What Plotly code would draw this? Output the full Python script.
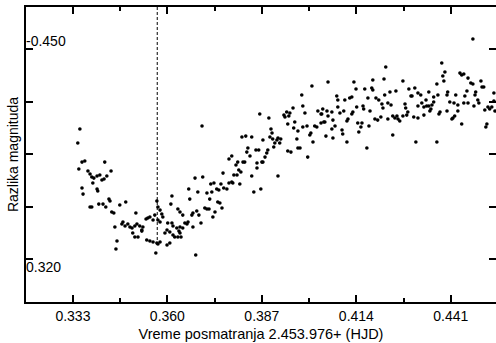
import plotly.graph_objects as go

time_hjd = [
    0.3350, 0.3344, 0.3356, 0.3364, 0.3421, 0.3347, 0.3439, 0.3373, 0.3379, 0.3384,
    0.3390, 0.3399, 0.3407, 0.3413, 0.3419, 0.3427, 0.3387, 0.3399, 0.3401, 0.3356,
    0.3359, 0.3661, 0.3379, 0.3384, 0.3404, 0.3416, 0.3424, 0.3433, 0.3436, 0.3441,
    0.3447, 0.3464, 0.3481, 0.3613, 0.3570, 0.3573, 0.3579, 0.3584, 0.3630, 0.3636,
    0.3450, 0.3470, 0.3473, 0.3479, 0.3487, 0.3493, 0.3499, 0.3510, 0.3507, 0.3513,
    0.3521, 0.3527, 0.3530, 0.3539, 0.3544, 0.3550, 0.3559, 0.3564, 0.3573, 0.3579,
    0.3587, 0.3613, 0.3616, 0.3627, 0.3636, 0.3644, 0.3650, 0.3656, 0.3659, 0.3501,
    0.3507, 0.3516, 0.3527, 0.3541, 0.3550, 0.3559, 0.3570, 0.3573, 0.3579, 0.3593,
    0.3599, 0.3607, 0.3616, 0.3621, 0.3630, 0.3636, 0.3599, 0.3607, 0.3456, 0.3453,
    0.3567, 0.3610, 0.3644, 0.3633, 0.3639, 0.3601,
    # 0.366 - 0.381
    0.3699, 0.3784, 0.3776, 0.3801, 0.3796, 0.3804, 0.3790, 0.3799, 0.3807, 0.3759,
    0.3679, 0.3701, 0.3724, 0.3733, 0.3753, 0.3741, 0.3747, 0.3761, 0.3770, 0.3776,
    0.3784, 0.3787, 0.3713, 0.3727, 0.3721, 0.3707, 0.3713, 0.3719, 0.3744, 0.3750,
    0.3756, 0.3730, 0.3736, 0.3664, 0.3670, 0.3673, 0.3684, 0.3690, 0.3696, 0.3673,
    0.3687, 0.3681,
    # 0.381 - 0.405
    0.4013, 0.3984, 0.3864, 0.3890, 0.3987, 0.3993, 0.3959, 0.3941, 0.3933, 0.3936,
    0.3947, 0.3950, 0.3964, 0.3944, 0.3961, 0.3973, 0.3987, 0.3999, 0.4007, 0.4010,
    0.4016, 0.4030, 0.4039, 0.4044, 0.4041, 0.4021, 0.4027, 0.4039, 0.4047, 0.3896,
    0.3899, 0.3893, 0.3901, 0.3913, 0.3907, 0.3916, 0.3924, 0.3904, 0.3921, 0.3970,
    0.3973, 0.3979, 0.3944, 0.3953, 0.4001, 0.3813, 0.3824, 0.3841, 0.3873, 0.3830,
    0.3827, 0.3853, 0.3861, 0.3836, 0.3887, 0.3884, 0.3879, 0.3873, 0.3856, 0.3856,
    0.3841, 0.3870, 0.3816, 0.3821, 0.3810, 0.3847, 0.3867, 0.3916,
    # 0.405 - 0.429
    0.4224, 0.4059, 0.4133, 0.4139, 0.4187, 0.4219, 0.4273, 0.4290, 0.4164, 0.4184,
    0.4187, 0.4236, 0.4253, 0.4084, 0.4087, 0.4107, 0.4121, 0.4127, 0.4173, 0.4196,
    0.4204, 0.4221, 0.4230, 0.4239, 0.4213, 0.4216, 0.4159, 0.4161, 0.4141, 0.4130,
    0.4127, 0.4104, 0.4093, 0.4087, 0.4179, 0.4279, 0.4281, 0.4056, 0.4070, 0.4059,
    0.4073, 0.4050, 0.4079, 0.4070, 0.4113, 0.4116, 0.4099, 0.4101, 0.4053, 0.4073,
    0.4113, 0.4144, 0.4156, 0.4153, 0.4176, 0.4147, 0.4193, 0.4201, 0.4210, 0.4230,
    0.4244, 0.4250, 0.4259, 0.4264, 0.4256, 0.4273, 0.4284, 0.4287, 0.4244, 0.4170,
    # 0.429 - 0.454
    0.4473, 0.4384, 0.4393, 0.4387, 0.4390, 0.4436, 0.4441, 0.4447, 0.4459, 0.4467,
    0.4473, 0.4496, 0.4499, 0.4504, 0.4307, 0.4316, 0.4324, 0.4296, 0.4299, 0.4347,
    0.4370, 0.4373, 0.4361, 0.4401, 0.4399, 0.4424, 0.4456, 0.4450, 0.4481, 0.4479,
    0.4533, 0.4316, 0.4327, 0.4339, 0.4333, 0.4341, 0.4347, 0.4356, 0.4353, 0.4361,
    0.4350, 0.4379, 0.4376, 0.4399, 0.4407, 0.4419, 0.4430, 0.4430, 0.4447, 0.4459,
    0.4476, 0.4487, 0.4490, 0.4507, 0.4516, 0.4521, 0.4527, 0.4533, 0.4536, 0.4421,
    0.4416, 0.4413, 0.4441, 0.4304, 0.4316, 0.4513, 0.4510, 0.4333, 0.4310, 0.4370,
]

mag_diff = [
    -0.4005, -0.3918, -0.3800, -0.3807, -0.3800, -0.3757, -0.3745, -0.3745, -0.3726, -0.3708,
    -0.3701, -0.3714, -0.3720, -0.3689, -0.3695, -0.3714, -0.3671, -0.3633, -0.3621, -0.3640,
    -0.3602, -0.3633, -0.3522, -0.3522, -0.3540, -0.3540, -0.3522, -0.3571, -0.3559, -0.3491,
    -0.3485, -0.3534, -0.3553, -0.3590, -0.3559, -0.3522, -0.3503, -0.3479, -0.3510, -0.3491,
    -0.3398, -0.3417, -0.3429, -0.3404, -0.3417, -0.3398, -0.3392, -0.3485, -0.3404, -0.3417,
    -0.3404, -0.3380, -0.3398, -0.3448, -0.3454, -0.3460, -0.3442, -0.3472, -0.3442, -0.3429,
    -0.3460, -0.3423, -0.3404, -0.3392, -0.3398, -0.3472, -0.3423, -0.3417, -0.3429, -0.3361,
    -0.3336, -0.3336, -0.3373, -0.3318, -0.3312, -0.3305, -0.3299, -0.3293, -0.3305, -0.3361,
    -0.3380, -0.3367, -0.3349, -0.3336, -0.3336, -0.3361, -0.3287, -0.3299, -0.3312, -0.3262,
    -0.3237, -0.3540, -0.3392, -0.3373, -0.3336, -0.3423,
    # 0.366 - 0.381
    -0.4023, -0.3838, -0.3819, -0.3800, -0.3782, -0.3751, -0.3720, -0.3720, -0.3664, -0.3732,
    -0.3701, -0.3708, -0.3664, -0.3671, -0.3664, -0.3633, -0.3627, -0.3640, -0.3633, -0.3671,
    -0.3677, -0.3671, -0.3609, -0.3615, -0.3571, -0.3516, -0.3510, -0.3510, -0.3553, -0.3547,
    -0.3516, -0.3460, -0.3491, -0.3571, -0.3472, -0.3485, -0.3497, -0.3472, -0.3423, -0.3398,
    -0.3615, -0.3225,
    # 0.381 - 0.405
    -0.4271, -0.4215, -0.4098, -0.4073, -0.4147, -0.4104, -0.4135, -0.4110, -0.4091, -0.4079,
    -0.4085, -0.4104, -0.4048, -0.4036, -0.4011, -0.3992, -0.4017, -0.4023, -0.3968, -0.3980,
    -0.3924, -0.4116, -0.4098, -0.4129, -0.4098, -0.4023, -0.4017, -0.4042, -0.4048, -0.4005,
    -0.3980, -0.3955, -0.3943, -0.3937, -0.3918, -0.3949, -0.3943, -0.3893, -0.3918, -0.3943,
    -0.3887, -0.3887, -0.3869, -0.3862, -0.3831, -0.3955, -0.3961, -0.3955, -0.3937, -0.3887,
    -0.3862, -0.3875, -0.3875, -0.3838, -0.3875, -0.3856, -0.3831, -0.3800, -0.3794, -0.3763,
    -0.3714, -0.3800, -0.3800, -0.3800, -0.3739, -0.3615, -0.3633, -0.3714,
    # 0.405 - 0.429
    -0.4389, -0.4296, -0.4296, -0.4252, -0.4308, -0.4314, -0.4302, -0.4252, -0.4252, -0.4259,
    -0.4246, -0.4234, -0.4240, -0.4209, -0.4184, -0.4184, -0.4197, -0.4203, -0.4197, -0.4197,
    -0.4184, -0.4215, -0.4166, -0.4153, -0.4160, -0.4135, -0.4147, -0.4129, -0.4141, -0.4110,
    -0.4098, -0.4116, -0.4104, -0.4141, -0.4116, -0.4160, -0.4135, -0.4116, -0.4110, -0.4085,
    -0.4060, -0.4048, -0.4023, -0.4005, -0.4054, -0.4067, -0.3999, -0.3974, -0.3961, -0.3949,
    -0.3924, -0.4042, -0.4042, -0.4017, -0.4023, -0.3986, -0.4067, -0.4060, -0.4079, -0.4067,
    -0.4085, -0.4073, -0.4067, -0.4054, -0.4085, -0.4085, -0.4091, -0.4110, -0.3968, -0.3887,
    # 0.429 - 0.454
    -0.4562, -0.4413, -0.4358, -0.4333, -0.4302, -0.4351, -0.4339, -0.4345, -0.4320, -0.4290,
    -0.4283, -0.4302, -0.4265, -0.4265, -0.4259, -0.4228, -0.4215, -0.4209, -0.4209, -0.4234,
    -0.4283, -0.4215, -0.4203, -0.4234, -0.4215, -0.4215, -0.4240, -0.4209, -0.4234, -0.4215,
    -0.4228, -0.4147, -0.4166, -0.4184, -0.4141, -0.4147, -0.4147, -0.4153, -0.4129, -0.4172,
    -0.4116, -0.4110, -0.4098, -0.4116, -0.4172, -0.4166, -0.4153, -0.4116, -0.4166, -0.4166,
    -0.4147, -0.4184, -0.4166, -0.4122, -0.4141, -0.4129, -0.4141, -0.4178, -0.4116, -0.4085,
    -0.4073, -0.4067, -0.4036, -0.4079, -0.4073, -0.4036, -0.4017, -0.4091, -0.3924, -0.3924,
]

# Time of minimum (dashed marker) and its magnitude level
min_time = 0.3571
min_mag = -0.3287

x_tick_vals = [0.333, 0.360, 0.387, 0.414, 0.441]
x_tick_text = ["0.333", "0.360", "0.387", "0.414", "0.441"]
y_tick_vals = [-0.450, -0.4175, -0.385, -0.3525, -0.320]
y_tick_text = ["-0.450", "", "", "", "0.320"]

x_range = [0.3196, 0.4539]
y_range = [-0.2934, -0.4760]  # reversed magnitude axis

FONT = "Liberation Sans, Arial, sans-serif"

fig = go.Figure()
fig.add_trace(go.Scatter(
    x=time_hjd, y=mag_diff, mode="markers",
    marker=dict(color="black", size=3.6, line=dict(width=0)),
    showlegend=False, hoverinfo="skip",
))
fig.add_trace(go.Scatter(
    x=[min_time, min_time], y=[y_range[1], min_mag], mode="lines",
    line=dict(color="black", width=1, dash="3px,2px"),
    showlegend=False, hoverinfo="skip",
))

# y tick labels drawn inside the frame, offset from their ticks
for val, txt in zip(y_tick_vals, y_tick_text):
    if not txt:
        continue
    shift = 8 if val == y_tick_vals[0] else -8
    fig.add_annotation(
        x=0, xref="paper", xanchor="left", y=val, yref="y", yanchor="middle",
        yshift=shift, xshift=-2, text=txt, showarrow=False,
        font=dict(family=FONT, size=14, color="black"),
    )

fig.update_layout(
    width=496, height=343,
    margin=dict(l=26, r=0, t=7, b=41, autoexpand=False),
    paper_bgcolor="white", plot_bgcolor="white",
    font=dict(family=FONT, size=14, color="black"),
)
fig.update_xaxes(
    range=x_range, tickvals=x_tick_vals, ticktext=x_tick_text,
    ticks="inside", ticklen=7, tickwidth=1.5, tickcolor="black",
    minor=dict(ticks="inside", ticklen=4, tickwidth=1.5, tickcolor="black",
               tick0=0.333, dtick=0.0135),
    showline=True, linecolor="black", linewidth=2, mirror="allticks",
    showgrid=False, zeroline=False, automargin=False,
    tickfont=dict(family=FONT, size=14),
    title=dict(text="Vreme posmatranja 2.453.976+ (HJD)", standoff=6,
               font=dict(family=FONT, size=14.5)),
)
fig.update_yaxes(
    range=y_range, tickvals=y_tick_vals, ticktext=y_tick_text,
    showticklabels=False, automargin=False,
    ticks="inside", ticklen=7, tickwidth=1.5, tickcolor="black",
    showline=True, linecolor="black", linewidth=2, mirror="allticks",
    showgrid=False, zeroline=False,
    title=dict(text="Razlika magnituda", standoff=2,
               font=dict(family=FONT, size=14)),
)

fig.write_html(
    "out.html",
    config={"displayModeBar": False},
    post_script="document.body.style.margin='0';document.body.style.overflow='hidden';",
)
